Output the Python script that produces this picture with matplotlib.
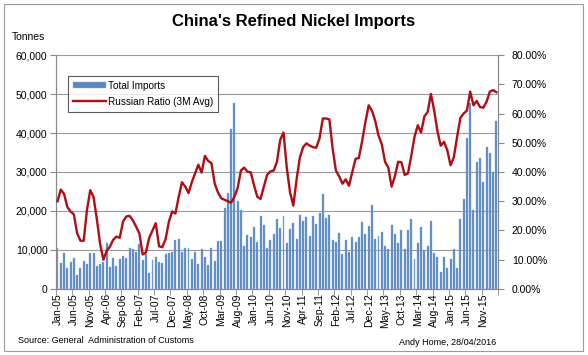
import numpy as np
import pandas as pd
import matplotlib
matplotlib.use("Agg")
import matplotlib.pyplot as plt
from matplotlib.ticker import FuncFormatter, FixedLocator

plt.rcParams["font.family"] = ["Liberation Sans", "DejaVu Sans"]

# monthly, Jan-05 .. Mar-16
months = pd.date_range("2005-01-01", "2016-03-01", freq="MS")
month_labels = [d.strftime("%b-%y") for d in months]

# total refined nickel imports, '000 tonnes
imports_k = [
    10.4, 6.6, 9.1, 5.4, 7.0, 7.9, 3.6, 5.3, 7.2, 6.4,
    9.2, 9.2, 6.0, 6.3, 7.0, 11.7, 5.6, 7.9, 5.9, 7.7,
    8.4, 7.9, 10.4, 10.2, 9.6, 11.6, 7.4, 9.0, 4.2, 7.4,
    8.1, 6.8, 6.6, 9.0, 9.3, 9.6, 12.6, 12.7, 9.4, 10.5,
    10.6, 7.8, 9.5, 6.5, 10.3, 8.1, 6.2, 10.4, 7.3, 12.4,
    12.4, 20.8, 24.7, 41.0, 47.6, 22.5, 20.2, 11.0, 13.8, 13.4,
    16.0, 12.1, 18.8, 16.4, 10.5, 12.5, 14.1, 17.9, 15.6, 18.8,
    11.7, 15.3, 17.0, 12.9, 19.0, 17.4, 18.4, 13.6, 18.8, 16.6,
    19.6, 24.4, 18.3, 18.9, 12.6, 12.0, 14.4, 8.9, 12.6, 9.6,
    13.4, 12.0, 13.4, 17.3, 14.1, 16.2, 21.5, 12.8, 13.6, 14.5,
    10.9, 10.2, 16.4, 14.1, 11.7, 15.1, 10.3, 15.0, 17.9, 7.7,
    11.9, 16.0, 10.0, 10.9, 17.4, 9.1, 8.3, 4.3, 8.3, 5.3,
    7.6, 10.2, 5.5, 17.9, 23.2, 38.6, 47.6, 20.3, 32.5, 33.7,
    27.5, 36.3, 34.8, 29.9, 43.2,
]

# Russian share of imports, 3-month average, %
russian_pct = [
    30.0, 34.0, 32.5, 28.0, 26.5, 25.5, 19.0, 16.5, 16.5, 27.0,
    33.8, 31.5, 24.0, 15.5, 10.0, 13.0, 14.5, 16.8, 17.9, 17.5,
    23.0, 24.8, 25.0, 23.5, 21.3, 19.0, 11.8, 12.5, 17.5, 20.0,
    22.5, 14.6, 14.3, 17.0, 23.0, 26.5, 25.8, 31.5, 36.5, 35.0,
    32.8, 36.5, 39.5, 42.5, 39.8, 45.5, 43.8, 43.0, 36.0, 33.0,
    31.0, 30.5, 30.0, 29.5, 31.5, 34.5, 40.5, 41.5, 40.1, 39.9,
    35.5, 31.5, 30.8, 35.0, 39.0, 40.2, 40.5, 43.5, 51.0, 53.5,
    41.5, 33.0, 28.5, 37.5, 45.0, 48.5, 49.8, 49.0, 48.5, 48.3,
    51.5, 58.3, 58.3, 58.0, 48.0, 40.5, 38.5, 36.0, 37.5, 35.3,
    40.0, 44.5, 44.8, 50.5, 57.0, 62.8, 61.0, 57.5, 52.5, 49.5,
    43.5, 41.5, 35.0, 38.5, 43.5, 43.3, 39.0, 39.5, 45.5, 52.0,
    56.0, 53.5, 59.0, 60.5, 66.7, 61.0, 54.0, 49.0, 50.3, 47.5,
    42.3, 45.0, 52.0, 58.5, 60.0, 61.0, 67.5, 62.8, 64.3, 62.2,
    62.0, 64.0, 67.5, 68.0, 67.3,
]

bar_color = "#5A87C0"
line_color = "#B00D14"
grid_color = "#9A9A9A"

fig = plt.figure(figsize=(5.88, 3.55), dpi=100)
ax = fig.add_axes([0.095, 0.186, 0.752, 0.659])
ax2 = ax.twinx()

x = np.arange(len(months))
tonnes = np.array(imports_k) * 1000
ax.bar(x, tonnes, width=0.6, color=bar_color, edgecolor="#8DB0DA",
       linewidth=0.3, label="Total Imports", zorder=2)
ax2.plot(x, np.array(russian_pct) / 100, color=line_color, lw=1.7,
         label="Russian Ratio (3M Avg)", zorder=3)

ax.set_xlim(-0.5, len(months) - 0.5)
ax.set_ylim(0, 60000)
ax2.set_ylim(0, 0.8)
ax.set_yticks(np.arange(0, 60001, 10000))
ax2.set_yticks(np.arange(0, 0.81, 0.1))
ax.yaxis.set_major_formatter(FuncFormatter(lambda v, p: f"{v:,.0f}"))
ax2.yaxis.set_major_formatter(FuncFormatter(lambda v, p: f"{v * 100:.2f}%"))
ax.grid(axis="y", color=grid_color, lw=0.8, zorder=0)
ax.set_axisbelow(True)

# labels on category centres, tick marks on category boundaries
lab_pos = x[::5]
ax.set_xticks(lab_pos)
ax.set_xticklabels([month_labels[i] for i in lab_pos], rotation=90, fontsize=7.5)
ax.tick_params(axis="x", which="major", length=0, pad=3)
ax.xaxis.set_minor_locator(FixedLocator(list(lab_pos - 0.5) + [len(months) - 0.5]))
ax.tick_params(axis="x", which="minor", length=4, color="#888888")

ax.tick_params(axis="y", labelsize=7.5, length=4, color="#888888", pad=2)
ax2.tick_params(axis="y", labelsize=7.5, length=4, color="#888888", pad=6)

for a in (ax, ax2):
    a.spines["top"].set_visible(False)
    for s in ("left", "right", "bottom"):
        a.spines[s].set_color("#888888")
        a.spines[s].set_linewidth(0.8)

h1, l1 = ax.get_legend_handles_labels()
h2, l2 = ax2.get_legend_handles_labels()
leg = ax2.legend(h1 + h2, l1 + l2, loc="upper left", bbox_to_anchor=(0.02, 0.925),
                 fontsize=7.2, frameon=True, fancybox=False, edgecolor="#333333",
                 handlelength=3.3, handleheight=0.5, borderpad=0.5, labelspacing=0.6,
                 handletextpad=0.2, borderaxespad=0.3)
leg.get_frame().set_linewidth(0.8)

fig.text(0.5, 0.94, "China's Refined Nickel Imports", ha="center", va="center",
         fontsize=12, fontweight="bold")
fig.text(0.02, 0.895, "Tonnes", ha="left", va="center", fontsize=7.5)
fig.text(0.03, 0.04, "Source: General  Administration of Customs", ha="left",
         va="center", fontsize=6.5)
fig.text(0.762, 0.035, "Andy Home, 28/04/2016", ha="center", va="center", fontsize=6.5)

# outer chart frame
fig.patches.append(plt.Rectangle((0.006, 0.012), 0.986, 0.976, transform=fig.transFigure,
                                 fill=False, edgecolor="#9A9A9A", lw=0.8))

fig.savefig("out.png", dpi=100)
